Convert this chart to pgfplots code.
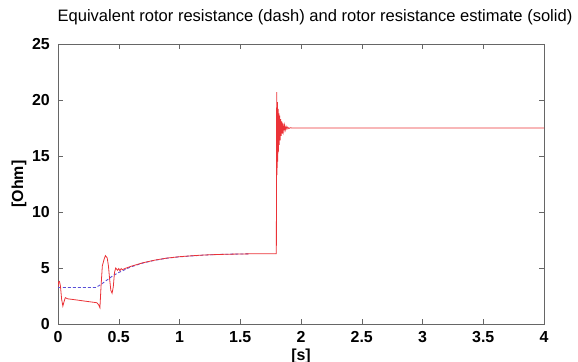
\documentclass[border=0pt]{standalone}
\usepackage{fontspec}
\setmainfont{Liberation Sans}
\usepackage{pgfplots}
\pgfplotsset{compat=1.18}
\definecolor{estred}{RGB}{235,50,55}
\definecolor{eqblue}{RGB}{90,80,215}
\begin{document}
\begin{tikzpicture}
\begin{axis}[
  scale only axis,
  width=486bp, height=280bp,
  xmin=0, xmax=4, ymin=0, ymax=25,
  xtick={0,0.5,...,4}, ytick={0,5,...,25},
  xticklabels={0,0.5,1,1.5,2,2.5,3,3.5,4},
  tick align=inside,
  major tick length=5bp,
  tick style={black!60, line width=0.5pt},
  axis line style={black!60, line width=0.6pt},
  ticklabel style={font=\bfseries\fontsize{16}{18}\selectfont},
  /pgf/number format/assume math mode=true,
  xticklabel style={anchor=base, inner sep=0pt, yshift=-18bp},
  yticklabel style={anchor=east, inner sep=0pt, xshift=-8bp},
  title={Equivalent rotor resistance (dash) and rotor resistance estimate (solid)},
  title style={font=\fontsize{16.6}{19}\selectfont, at={(axis description cs:0.5288,1.0607)}, anchor=base, inner sep=0pt},
  xlabel={[s]},
  xlabel style={font=\bfseries\fontsize{16}{18}\selectfont, at={(axis description cs:0.5,-0.1286)}, anchor=base, inner sep=0pt},
  ylabel={[Ohm]},
  ylabel style={font=\bfseries\fontsize{16}{18}\selectfont, at={(axis description cs:-0.08,0.5)}, anchor=center, inner sep=0pt},
]
% equivalent rotor resistance (dashed)
\addplot[eqblue, densely dashed, line width=0.9pt] coordinates {
(0,3.26)(0.31,3.26)(0.35,3.5)(0.4,3.9)(0.45,4.3)(0.5,4.6)(0.55,4.85)
(0.6,5.1)(0.7,5.45)(0.8,5.7)(0.9,5.88)(1.0,6.0)(1.1,6.08)(1.2,6.15)
(1.3,6.2)(1.4,6.23)(1.5,6.25)(1.57,6.26)
};
% rotor resistance estimate (solid)
\addplot[estred, line width=0.8pt] coordinates {
(0,3.3)(0.005,3.75)(0.012,3.8)(0.02,3.4)(0.03,2.2)(0.04,1.6)(0.05,2.0)
(0.06,2.35)(0.07,2.3)(0.08,2.25)(0.15,2.15)(0.25,2.0)(0.32,1.9)(0.335,1.7)
(0.345,1.45)(0.355,3.5)(0.365,5.2)(0.38,5.8)(0.39,6.1)(0.405,5.9)(0.415,5.2)
(0.425,4.0)(0.435,3.0)(0.445,2.75)(0.455,3.3)(0.465,4.6)(0.475,5.0)(0.49,4.8)
(0.5,4.95)(0.51,4.75)(0.52,4.95)(0.53,4.85)(0.55,4.95)(0.6,5.15)(0.7,5.47)
(0.8,5.71)(0.9,5.89)(1.0,6.01)(1.1,6.09)(1.2,6.16)(1.3,6.2)(1.4,6.23)
(1.5,6.25)(1.6,6.27)(1.7,6.28)(1.797,6.28)(1.799,17.5)
(1.800,20.7)(1.803,13.3)(1.806,19.8)(1.809,14.5)(1.812,19.2)(1.815,15.4)
(1.818,18.8)(1.821,16.0)(1.825,18.6)(1.829,16.4)(1.833,18.3)(1.837,16.8)
(1.842,18.1)(1.847,17.0)(1.852,17.9)(1.858,17.2)(1.864,17.75)(1.87,17.3)
(1.877,17.65)(1.884,17.4)(1.891,17.58)(1.9,17.45)(1.91,17.52)(1.93,17.5)
(4,17.5)
};
\end{axis}
\pgfresetboundingbox
\path (current axis.south west) ++(-58bp,-38bp) rectangle ++(578bp,362bp);
\end{tikzpicture}
\end{document}
